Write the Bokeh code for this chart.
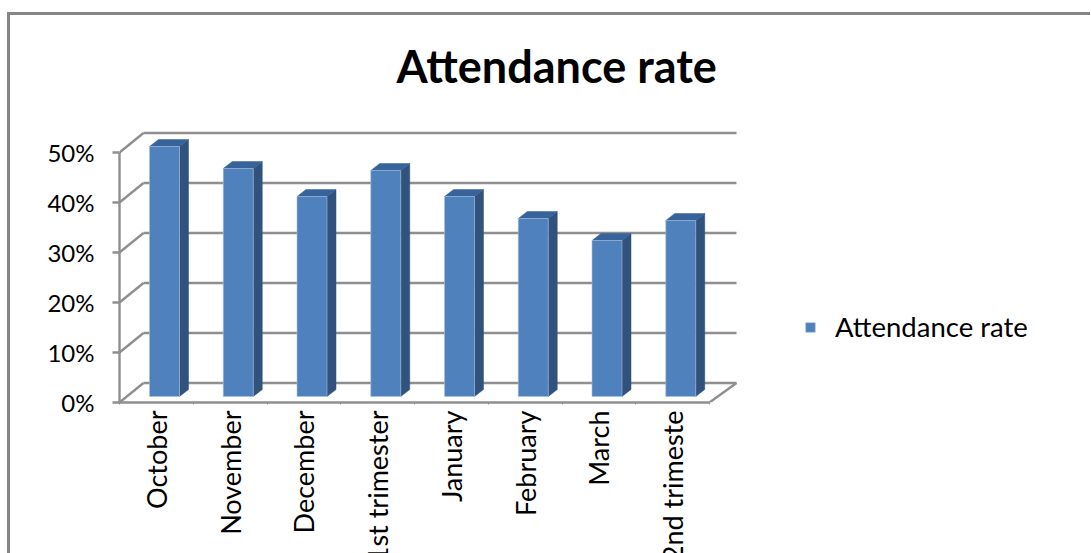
from bokeh.plotting import figure
from bokeh.embed import file_html
from bokeh.resources import INLINE
from bokeh.models import Range1d, FixedTicker, Legend, LegendItem

categories = ["October", "November", "December", "1st trimester", "January",
              "February", "March", "2nd trimeste"]
attendance = [50.0, 45.6, 40.0, 45.2, 40.0, 35.6, 31.2, 35.2]
y_ticks = [0, 10, 20, 30, 40, 50]
series_name = "Attendance rate"
chart_title = "Attendance rate"

PX_X = 73.75   # pixels per category
PX_Y = 5.0     # pixels per percentage point
FRAME_W, FRAME_H = 956, 303
GRID = "#8f8f8f"
LW = 2.4
FRONT, SIDE, TOP = "#4f81bd", "#30527c", "#38639a"

BORDER_CSS = (":host::before{content:'';position:absolute;left:7px;top:12px;"
              "width:calc(100% + 8px);height:calc(100% + 3px);box-sizing:border-box;"
              "border-left:3px solid #868686;border-top:3px solid #868686;"
              "z-index:5;pointer-events:none}")

p = figure(width=1075, height=537, output_backend="svg", toolbar_location=None,
           x_range=Range1d(0, FRAME_W / PX_X), y_range=Range1d(0, FRAME_H / PX_Y),
           min_border_left=119, min_border_right=0, min_border_top=99, min_border_bottom=135,
           frame_width=FRAME_W, frame_height=FRAME_H,
           title=chart_title, stylesheets=[BORDER_CSS])
p.outline_line_color = None
p.grid.visible = False
p.background_fill_color = "white"
p.border_fill_color = "white"

p.title.align = "left"
p.title.offset = 277
p.title.standoff = 14
p.title.text_font = "Lato"
p.title.text_font_style = "bold"
p.title.text_font_size = "45px"
p.title.text_color = "#000000"

# 3-D projection offsets, in data units
wall_dx, wall_dy = 24 / PX_X, 19.5 / PX_Y
n = len(categories)
wall_end = (737 - 120) / PX_X

# back wall grid and left wall diagonals
p.multi_line([[wall_dx, wall_end] for v in y_ticks],
             [[v + wall_dy, v + wall_dy] for v in y_ticks], line_color=GRID, line_width=LW)
p.multi_line([[0, wall_dx] for v in y_ticks],
             [[v, v + wall_dy] for v in y_ticks], line_color=GRID, line_width=LW)
# right edge of floor
p.line([n, wall_end], [0, wall_dy], line_color=GRID, line_width=LW)

# bars
bar_left, bar_w = 30 / PX_X, 30 / PX_X
base = 6 / PX_Y
dx, dy = 9 / PX_X, 7 / PX_Y
lefts = [i + bar_left for i in range(n)]
rights = [l + bar_w for l in lefts]
tops = [base + v for v in attendance]
p.patches([[r, r + dx, r + dx, r] for r in rights],
          [[base, base + dy, t + dy, t] for t in tops],
          fill_color=SIDE, line_color=SIDE, line_width=0.5)
p.patches([[l, l + dx, r + dx, r] for l, r in zip(lefts, rights)],
          [[t, t + dy, t + dy, t] for t in tops],
          fill_color=TOP, line_color=TOP, line_width=0.5)
front = p.quad(left=lefts, right=rights, bottom=[base] * n, top=tops,
               fill_color=FRONT, line_color="#a9c1dd", line_width=0.6)

# axes
xa = p.xaxis[0]
centres = [i + 0.5 for i in range(n)]
xa.ticker = FixedTicker(ticks=centres, minor_ticks=list(range(n + 1)))
xa.major_label_overrides = {c: l for c, l in zip(centres, categories)}
xa.major_label_orientation = 1.5708
xa.major_label_text_font = "Lato"
xa.major_label_text_font_size = "27px"
xa.major_label_text_color = "#000000"
xa.major_label_standoff = 2
xa.major_tick_line_color = None
xa.minor_tick_line_color = GRID
xa.minor_tick_out = 2
xa.minor_tick_in = 0
xa.axis_line_color = GRID
xa.axis_line_width = LW
xa.bounds = (0, n)

ya = p.yaxis[0]
ya.ticker = FixedTicker(ticks=y_ticks)
ya.major_label_overrides = {v: f"{v}%" for v in y_ticks}
ya.major_label_text_font = "Lato"
ya.major_label_text_font_size = "24px"
ya.major_label_text_color = "#000000"
ya.major_label_standoff = 18
ya.major_tick_line_color = GRID
ya.major_tick_line_width = LW
ya.major_tick_out = 7
ya.major_tick_in = 0
ya.minor_tick_line_color = None
ya.axis_line_color = GRID
ya.axis_line_width = LW
ya.bounds = (0, 50)

legend = Legend(items=[LegendItem(label=series_name, renderers=[front])],
                location=(685, 59), orientation="vertical",
                glyph_width=12, glyph_height=12, label_standoff=19,
                border_line_color=None, background_fill_alpha=0,
                label_text_font="Lato", label_text_font_size="27.5px",
                label_text_color="#000000")
p.add_layout(legend, "center")

open("out.html", "w").write(file_html(p, INLINE))
